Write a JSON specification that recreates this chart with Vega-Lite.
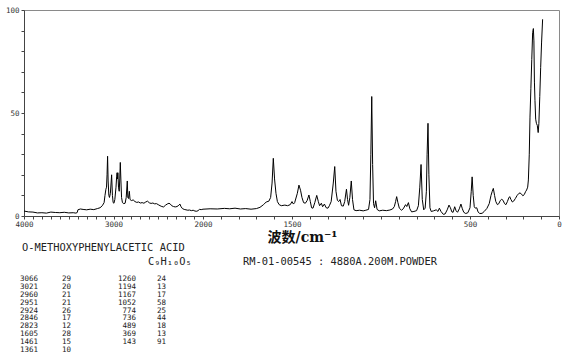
{
  "$schema": "https://vega.github.io/schema/vega-lite/v6.json",
  "width": 535,
  "height": 206,
  "autosize": {"type": "none"},
  "padding": {"left": 24, "top": 10, "right": 11, "bottom": 141},
  "background": "white",
  "config": {
    "view": {"stroke": "#8a8a8a", "strokeWidth": 1},
    "font": "DejaVu Sans Mono"
  },
  "datasets": {
    "spectrum": [
      {"wavenumber": 4000, "intensity": 2.4}, {"wavenumber": 3950, "intensity": 2.0}, {"wavenumber": 3900, "intensity": 1.9},
      {"wavenumber": 3850, "intensity": 1.5}, {"wavenumber": 3800, "intensity": 1.6}, {"wavenumber": 3750, "intensity": 1.4},
      {"wavenumber": 3700, "intensity": 1.9}, {"wavenumber": 3650, "intensity": 1.7}, {"wavenumber": 3600, "intensity": 1.6},
      {"wavenumber": 3550, "intensity": 1.8}, {"wavenumber": 3500, "intensity": 1.5}, {"wavenumber": 3450, "intensity": 1.6},
      {"wavenumber": 3420, "intensity": 1.4}, {"wavenumber": 3405, "intensity": 1.7}, {"wavenumber": 3398, "intensity": 3.0},
      {"wavenumber": 3370, "intensity": 3.4}, {"wavenumber": 3340, "intensity": 3.2}, {"wavenumber": 3300, "intensity": 3.0},
      {"wavenumber": 3260, "intensity": 3.3}, {"wavenumber": 3220, "intensity": 3.1}, {"wavenumber": 3180, "intensity": 3.6},
      {"wavenumber": 3150, "intensity": 4.0}, {"wavenumber": 3125, "intensity": 5.0}, {"wavenumber": 3105, "intensity": 6.5},
      {"wavenumber": 3095, "intensity": 10}, {"wavenumber": 3085, "intensity": 13}, {"wavenumber": 3078, "intensity": 14},
      {"wavenumber": 3072, "intensity": 20}, {"wavenumber": 3066, "intensity": 29}, {"wavenumber": 3060, "intensity": 17},
      {"wavenumber": 3052, "intensity": 10}, {"wavenumber": 3045, "intensity": 9}, {"wavenumber": 3035, "intensity": 11},
      {"wavenumber": 3021, "intensity": 20}, {"wavenumber": 3012, "intensity": 10}, {"wavenumber": 3004, "intensity": 6.5},
      {"wavenumber": 2995, "intensity": 6.2}, {"wavenumber": 2985, "intensity": 8}, {"wavenumber": 2972, "intensity": 14},
      {"wavenumber": 2965, "intensity": 19}, {"wavenumber": 2960, "intensity": 21}, {"wavenumber": 2955, "intensity": 18},
      {"wavenumber": 2951, "intensity": 21}, {"wavenumber": 2944, "intensity": 14}, {"wavenumber": 2936, "intensity": 12},
      {"wavenumber": 2930, "intensity": 18}, {"wavenumber": 2924, "intensity": 26}, {"wavenumber": 2917, "intensity": 17},
      {"wavenumber": 2910, "intensity": 9}, {"wavenumber": 2900, "intensity": 6.5}, {"wavenumber": 2885, "intensity": 6},
      {"wavenumber": 2870, "intensity": 6.2}, {"wavenumber": 2858, "intensity": 9}, {"wavenumber": 2846, "intensity": 17},
      {"wavenumber": 2840, "intensity": 9}, {"wavenumber": 2832, "intensity": 8.5}, {"wavenumber": 2823, "intensity": 12},
      {"wavenumber": 2815, "intensity": 8}, {"wavenumber": 2800, "intensity": 7.5}, {"wavenumber": 2780, "intensity": 7.8},
      {"wavenumber": 2760, "intensity": 7}, {"wavenumber": 2740, "intensity": 6.6}, {"wavenumber": 2720, "intensity": 6.8},
      {"wavenumber": 2700, "intensity": 6.3}, {"wavenumber": 2680, "intensity": 6.5}, {"wavenumber": 2660, "intensity": 6.2},
      {"wavenumber": 2640, "intensity": 6.8}, {"wavenumber": 2620, "intensity": 7.2}, {"wavenumber": 2600, "intensity": 6.4},
      {"wavenumber": 2580, "intensity": 6.1}, {"wavenumber": 2560, "intensity": 6.3}, {"wavenumber": 2540, "intensity": 5.9},
      {"wavenumber": 2520, "intensity": 6.0}, {"wavenumber": 2500, "intensity": 5.5}, {"wavenumber": 2480, "intensity": 5.0},
      {"wavenumber": 2460, "intensity": 4.6}, {"wavenumber": 2440, "intensity": 4.4}, {"wavenumber": 2420, "intensity": 5.2},
      {"wavenumber": 2400, "intensity": 5.8}, {"wavenumber": 2380, "intensity": 6.2}, {"wavenumber": 2365, "intensity": 5.8},
      {"wavenumber": 2350, "intensity": 5.0}, {"wavenumber": 2330, "intensity": 4.6}, {"wavenumber": 2310, "intensity": 4.4},
      {"wavenumber": 2290, "intensity": 4.6}, {"wavenumber": 2270, "intensity": 5.2}, {"wavenumber": 2258, "intensity": 5.8},
      {"wavenumber": 2245, "intensity": 4.5}, {"wavenumber": 2230, "intensity": 3.6}, {"wavenumber": 2210, "intensity": 3.2},
      {"wavenumber": 2190, "intensity": 3.0}, {"wavenumber": 2170, "intensity": 2.8}, {"wavenumber": 2150, "intensity": 2.9},
      {"wavenumber": 2130, "intensity": 2.6}, {"wavenumber": 2110, "intensity": 2.8}, {"wavenumber": 2090, "intensity": 2.4},
      {"wavenumber": 2070, "intensity": 2.3}, {"wavenumber": 2055, "intensity": 2.6}, {"wavenumber": 2040, "intensity": 3.2},
      {"wavenumber": 2020, "intensity": 3.1}, {"wavenumber": 2000, "intensity": 3.3}, {"wavenumber": 1960, "intensity": 3.5},
      {"wavenumber": 1920, "intensity": 3.4}, {"wavenumber": 1880, "intensity": 3.7}, {"wavenumber": 1850, "intensity": 3.5},
      {"wavenumber": 1820, "intensity": 3.8}, {"wavenumber": 1790, "intensity": 3.4}, {"wavenumber": 1760, "intensity": 3.6},
      {"wavenumber": 1730, "intensity": 3.3}, {"wavenumber": 1700, "intensity": 3.6}, {"wavenumber": 1680, "intensity": 4.2},
      {"wavenumber": 1660, "intensity": 5.5}, {"wavenumber": 1645, "intensity": 6.8}, {"wavenumber": 1630, "intensity": 7.2},
      {"wavenumber": 1620, "intensity": 9}, {"wavenumber": 1612, "intensity": 16}, {"wavenumber": 1605, "intensity": 28},
      {"wavenumber": 1598, "intensity": 18}, {"wavenumber": 1590, "intensity": 11}, {"wavenumber": 1582, "intensity": 7},
      {"wavenumber": 1572, "intensity": 5.5}, {"wavenumber": 1560, "intensity": 5.0}, {"wavenumber": 1540, "intensity": 5.3},
      {"wavenumber": 1525, "intensity": 5.0}, {"wavenumber": 1510, "intensity": 5.5}, {"wavenumber": 1500, "intensity": 7.0},
      {"wavenumber": 1492, "intensity": 5.8}, {"wavenumber": 1485, "intensity": 6.5}, {"wavenumber": 1470, "intensity": 11},
      {"wavenumber": 1461, "intensity": 15}, {"wavenumber": 1452, "intensity": 12.5}, {"wavenumber": 1444, "intensity": 9},
      {"wavenumber": 1435, "intensity": 6.5}, {"wavenumber": 1425, "intensity": 6.2}, {"wavenumber": 1415, "intensity": 7.5},
      {"wavenumber": 1405, "intensity": 10.2}, {"wavenumber": 1397, "intensity": 7}, {"wavenumber": 1390, "intensity": 4},
      {"wavenumber": 1382, "intensity": 3.8}, {"wavenumber": 1372, "intensity": 6.5}, {"wavenumber": 1361, "intensity": 10},
      {"wavenumber": 1352, "intensity": 7}, {"wavenumber": 1345, "intensity": 5}, {"wavenumber": 1335, "intensity": 6.2},
      {"wavenumber": 1328, "intensity": 4.5}, {"wavenumber": 1318, "intensity": 5.8}, {"wavenumber": 1308, "intensity": 4},
      {"wavenumber": 1298, "intensity": 3.8}, {"wavenumber": 1290, "intensity": 5}, {"wavenumber": 1280, "intensity": 7},
      {"wavenumber": 1268, "intensity": 16}, {"wavenumber": 1260, "intensity": 24}, {"wavenumber": 1253, "intensity": 12},
      {"wavenumber": 1245, "intensity": 7.6}, {"wavenumber": 1238, "intensity": 7.0}, {"wavenumber": 1230, "intensity": 8},
      {"wavenumber": 1222, "intensity": 5}, {"wavenumber": 1212, "intensity": 4.8}, {"wavenumber": 1204, "intensity": 7},
      {"wavenumber": 1194, "intensity": 13}, {"wavenumber": 1188, "intensity": 8}, {"wavenumber": 1182, "intensity": 5.2},
      {"wavenumber": 1175, "intensity": 9}, {"wavenumber": 1167, "intensity": 17}, {"wavenumber": 1160, "intensity": 8},
      {"wavenumber": 1152, "intensity": 3.0}, {"wavenumber": 1140, "intensity": 2.6}, {"wavenumber": 1120, "intensity": 2.8},
      {"wavenumber": 1100, "intensity": 2.5}, {"wavenumber": 1085, "intensity": 2.8}, {"wavenumber": 1070, "intensity": 3.2},
      {"wavenumber": 1062, "intensity": 8}, {"wavenumber": 1057, "intensity": 30}, {"wavenumber": 1052, "intensity": 58},
      {"wavenumber": 1047, "intensity": 25}, {"wavenumber": 1042, "intensity": 6}, {"wavenumber": 1036, "intensity": 4},
      {"wavenumber": 1030, "intensity": 7.4}, {"wavenumber": 1022, "intensity": 3.2}, {"wavenumber": 1010, "intensity": 2.5},
      {"wavenumber": 990, "intensity": 2.8}, {"wavenumber": 970, "intensity": 2.6}, {"wavenumber": 950, "intensity": 2.9},
      {"wavenumber": 935, "intensity": 3.4}, {"wavenumber": 925, "intensity": 4.6}, {"wavenumber": 918, "intensity": 7},
      {"wavenumber": 912, "intensity": 9.4}, {"wavenumber": 905, "intensity": 6.5}, {"wavenumber": 897, "intensity": 3.8},
      {"wavenumber": 885, "intensity": 2.8}, {"wavenumber": 875, "intensity": 3.5}, {"wavenumber": 862, "intensity": 5.5},
      {"wavenumber": 855, "intensity": 4.6}, {"wavenumber": 846, "intensity": 6.5}, {"wavenumber": 838, "intensity": 3.5},
      {"wavenumber": 828, "intensity": 2.0}, {"wavenumber": 815, "intensity": 2.2}, {"wavenumber": 800, "intensity": 2.6},
      {"wavenumber": 790, "intensity": 5}, {"wavenumber": 782, "intensity": 14}, {"wavenumber": 775, "intensity": 25},
      {"wavenumber": 768, "intensity": 8}, {"wavenumber": 760, "intensity": 3}, {"wavenumber": 752, "intensity": 3.8},
      {"wavenumber": 745, "intensity": 12}, {"wavenumber": 741, "intensity": 30}, {"wavenumber": 736, "intensity": 45},
      {"wavenumber": 731, "intensity": 20}, {"wavenumber": 725, "intensity": 4}, {"wavenumber": 718, "intensity": 2.2},
      {"wavenumber": 705, "intensity": 2.5}, {"wavenumber": 690, "intensity": 3.0}, {"wavenumber": 680, "intensity": 2.2},
      {"wavenumber": 672, "intensity": 3.8}, {"wavenumber": 663, "intensity": 2.2}, {"wavenumber": 650, "intensity": 0.8},
      {"wavenumber": 640, "intensity": 1.0}, {"wavenumber": 628, "intensity": 3}, {"wavenumber": 618, "intensity": 5.3},
      {"wavenumber": 610, "intensity": 4}, {"wavenumber": 602, "intensity": 2}, {"wavenumber": 595, "intensity": 1.8},
      {"wavenumber": 586, "intensity": 4.5}, {"wavenumber": 578, "intensity": 2.5}, {"wavenumber": 570, "intensity": 1.8},
      {"wavenumber": 560, "intensity": 3.5}, {"wavenumber": 551, "intensity": 5.8}, {"wavenumber": 543, "intensity": 3.5},
      {"wavenumber": 535, "intensity": 1.8}, {"wavenumber": 524, "intensity": 1.2}, {"wavenumber": 512, "intensity": 1.6},
      {"wavenumber": 500, "intensity": 4}, {"wavenumber": 493, "intensity": 12}, {"wavenumber": 488, "intensity": 19},
      {"wavenumber": 482, "intensity": 10}, {"wavenumber": 476, "intensity": 4.5}, {"wavenumber": 470, "intensity": 3.8},
      {"wavenumber": 462, "intensity": 4}, {"wavenumber": 455, "intensity": 2}, {"wavenumber": 445, "intensity": 1.2},
      {"wavenumber": 432, "intensity": 1.3}, {"wavenumber": 420, "intensity": 2.2}, {"wavenumber": 405, "intensity": 3.7},
      {"wavenumber": 392, "intensity": 6}, {"wavenumber": 382, "intensity": 10}, {"wavenumber": 375, "intensity": 12},
      {"wavenumber": 369, "intensity": 13.4}, {"wavenumber": 362, "intensity": 10}, {"wavenumber": 355, "intensity": 7},
      {"wavenumber": 346, "intensity": 5.5}, {"wavenumber": 338, "intensity": 6}, {"wavenumber": 330, "intensity": 7.5},
      {"wavenumber": 322, "intensity": 8.1}, {"wavenumber": 314, "intensity": 7.6}, {"wavenumber": 306, "intensity": 6},
      {"wavenumber": 298, "intensity": 5.5}, {"wavenumber": 290, "intensity": 7}, {"wavenumber": 282, "intensity": 8.8},
      {"wavenumber": 277, "intensity": 9.4}, {"wavenumber": 270, "intensity": 8}, {"wavenumber": 262, "intensity": 6.8},
      {"wavenumber": 255, "intensity": 7.2}, {"wavenumber": 245, "intensity": 8.5}, {"wavenumber": 235, "intensity": 10},
      {"wavenumber": 225, "intensity": 11}, {"wavenumber": 219, "intensity": 11.2}, {"wavenumber": 210, "intensity": 10.6},
      {"wavenumber": 203, "intensity": 9.8}, {"wavenumber": 195, "intensity": 10.4}, {"wavenumber": 188, "intensity": 11.8},
      {"wavenumber": 182, "intensity": 12.6}, {"wavenumber": 176, "intensity": 14}, {"wavenumber": 172, "intensity": 17.5},
      {"wavenumber": 167, "intensity": 30}, {"wavenumber": 163, "intensity": 48}, {"wavenumber": 158, "intensity": 62},
      {"wavenumber": 153, "intensity": 76}, {"wavenumber": 148, "intensity": 89}, {"wavenumber": 144, "intensity": 91},
      {"wavenumber": 141, "intensity": 85}, {"wavenumber": 138, "intensity": 65}, {"wavenumber": 135, "intensity": 56},
      {"wavenumber": 131, "intensity": 47}, {"wavenumber": 127, "intensity": 45}, {"wavenumber": 122, "intensity": 44},
      {"wavenumber": 117, "intensity": 40.5}, {"wavenumber": 113, "intensity": 45}, {"wavenumber": 108, "intensity": 58},
      {"wavenumber": 103, "intensity": 72}, {"wavenumber": 98, "intensity": 84}, {"wavenumber": 92, "intensity": 95.5}
    ],
    "header": [
      {"slot": 0, "line": 0, "text": "O-METHOXYPHENYLACETIC ACID"},
      {"slot": 1, "line": 1, "text": "C₉H₁₀O₅"},
      {"slot": 2, "line": 1, "text": "RM-01-00545 : 4880A.200M.POWDER"}
    ],
    "peaks": [
      {"block": 0, "row": 0, "wavenumber": 3066, "intensity": 29},
      {"block": 0, "row": 1, "wavenumber": 3021, "intensity": 20},
      {"block": 0, "row": 2, "wavenumber": 2960, "intensity": 21},
      {"block": 0, "row": 3, "wavenumber": 2951, "intensity": 21},
      {"block": 0, "row": 4, "wavenumber": 2924, "intensity": 26},
      {"block": 0, "row": 5, "wavenumber": 2846, "intensity": 17},
      {"block": 0, "row": 6, "wavenumber": 2823, "intensity": 12},
      {"block": 0, "row": 7, "wavenumber": 1605, "intensity": 28},
      {"block": 0, "row": 8, "wavenumber": 1461, "intensity": 15},
      {"block": 0, "row": 9, "wavenumber": 1361, "intensity": 10},
      {"block": 1, "row": 0, "wavenumber": 1260, "intensity": 24},
      {"block": 1, "row": 1, "wavenumber": 1194, "intensity": 13},
      {"block": 1, "row": 2, "wavenumber": 1167, "intensity": 17},
      {"block": 1, "row": 3, "wavenumber": 1052, "intensity": 58},
      {"block": 1, "row": 4, "wavenumber": 774, "intensity": 25},
      {"block": 1, "row": 5, "wavenumber": 736, "intensity": 44},
      {"block": 1, "row": 6, "wavenumber": 489, "intensity": 18},
      {"block": 1, "row": 7, "wavenumber": 369, "intensity": 13},
      {"block": 1, "row": 8, "wavenumber": 143, "intensity": 91}
    ]
  },
  "layer": [
    {
      "data": {"name": "spectrum"},
      "mark": {"type": "line", "color": "#000000", "strokeWidth": 1},
      "encoding": {
        "x": {
          "field": "wavenumber", "type": "quantitative",
          "scale": {"domain": [4000, 2000, 0], "range": [0, 179, 535], "zero": false, "nice": false},
          "axis": {
            "values": [4000,3900,3800,3700,3600,3500,3400,3300,3200,3100,3000,2900,2800,2700,2600,2500,2400,2300,2200,2100,2000,1900,1800,1700,1600,1500,1400,1300,1200,1100,1000,900,800,700,600,500,400,300,200,100,0],
            "format": "d",
            "labelExpr": "indexof([4000,3000,2000,1500,500,0], datum.value) >= 0 ? datum.label : ''",
            "labelOverlap": false, "labelFlush": false, "labelBound": false,
            "labelFont": "DejaVu Sans Mono", "labelFontSize": 7.5, "labelColor": "#333333", "labelPadding": 1,
            "tickSize": 3, "tickColor": "#444444", "domainColor": "#444444", "grid": false,
            "title": "波数/cm⁻¹",
            "titleFont": "DejaVu Serif, Noto Sans CJK SC", "titleFontSize": 14, "titleFontWeight": "bold",
            "titleColor": "#111111", "titleX": 278, "titleY": 21, "titleBaseline": "middle", "titleAlign": "center"
          }
        },
        "y": {
          "field": "intensity", "type": "quantitative",
          "scale": {"domain": [0, 100], "zero": false, "nice": false},
          "axis": {
            "values": [0,10,20,30,40,50,60,70,80,90,100],
            "labelExpr": "datum.value % 50 == 0 ? datum.label : ''",
            "labelFont": "DejaVu Sans Mono", "labelFontSize": 7.5, "labelColor": "#333333", "labelPadding": 2,
            "tickSize": 3, "tickColor": "#444444", "domainColor": "#444444", "grid": false, "title": null
          }
        }
      }
    },
    {
      "data": {"name": "header"},
      "mark": {"type": "text", "align": "left", "baseline": "middle", "font": "DejaVu Sans Mono", "fontSize": 10.4, "color": "#222222"},
      "encoding": {
        "x": {"field": "slot", "type": "quantitative", "scale": {"domain": [0, 1, 2], "range": [-2, 124, 219], "zero": false, "nice": false}, "axis": null},
        "y": {"field": "line", "type": "quantitative", "scale": {"domain": [0, 1], "range": [238, 252], "zero": false, "nice": false}, "axis": null},
        "text": {"field": "text"}
      }
    },
    {
      "data": {"name": "peaks"},
      "mark": {"type": "text", "align": "right", "baseline": "middle", "font": "DejaVu Sans Mono", "fontSize": 7.5, "color": "#222222"},
      "encoding": {
        "x": {"field": "block", "type": "quantitative", "scale": {"domain": [0, 1], "range": [14, 112], "zero": false, "nice": false}, "axis": null},
        "y": {"field": "row", "type": "quantitative", "scale": {"domain": [0, 9], "range": [269, 340], "zero": false, "nice": false}, "axis": null},
        "text": {"field": "wavenumber", "type": "quantitative", "format": "d"}
      }
    },
    {
      "data": {"name": "peaks"},
      "mark": {"type": "text", "align": "right", "baseline": "middle", "font": "DejaVu Sans Mono", "fontSize": 7.5, "color": "#222222"},
      "encoding": {
        "x": {"field": "block", "type": "quantitative", "scale": {"domain": [0, 1], "range": [47, 142], "zero": false, "nice": false}, "axis": null},
        "y": {"field": "row", "type": "quantitative", "scale": {"domain": [0, 9], "range": [269, 340], "zero": false, "nice": false}, "axis": null},
        "text": {"field": "intensity", "type": "quantitative", "format": "d"}
      }
    }
  ],
  "resolve": {"scale": {"x": "independent", "y": "independent"}}
}
